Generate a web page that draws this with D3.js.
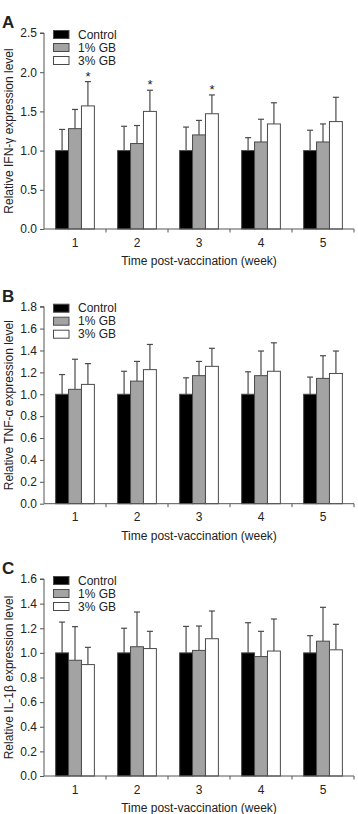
<!DOCTYPE html>
<html>
<head>
<meta charset="utf-8">
<script src="https://cdn.jsdelivr.net/npm/d3@7"></script>
<style>
  html, body { margin: 0; padding: 0; background: #fff; }
  svg { display: block; }
  text { font-family: Arial, "Liberation Sans", Helvetica, sans-serif; fill: #222; }
</style>
</head>
<body>
<svg id="chart" width="358" height="814"></svg>
<script>
// ---- data ----
const weeks = ["1", "2", "3", "4", "5"];
const series = ["Control", "1% GB", "3% GB"];

// Panel A: IFN-gamma
const ifnControl = [1.0, 1.0, 1.0, 1.0, 1.0];
const ifnGB1 = [1.28, 1.09, 1.20, 1.11, 1.11];
const ifnGB3 = [1.57, 1.50, 1.47, 1.34, 1.37];
const ifnControlSD = [0.27, 0.31, 0.30, 0.165, 0.26];
const ifnGB1SD = [0.245, 0.23, 0.185, 0.29, 0.23];
const ifnGB3SD = [0.31, 0.27, 0.24, 0.27, 0.31];
const ifnStars = [true, true, true, false, false]; // on 3% GB
const ifnTicks = [0, 0.5, 1.0, 1.5, 2.0, 2.5];

// Panel B: TNF-alpha
const tnfControl = [1.0, 1.0, 1.0, 1.0, 1.0];
const tnfGB1 = [1.045, 1.12, 1.17, 1.17, 1.145];
const tnfGB3 = [1.09, 1.225, 1.255, 1.21, 1.19];
const tnfControlSD = [0.18, 0.21, 0.15, 0.205, 0.157];
const tnfGB1SD = [0.275, 0.18, 0.13, 0.225, 0.207];
const tnfGB3SD = [0.19, 0.23, 0.165, 0.26, 0.205];
const tnfStars = [false, false, false, false, false];
const tnfTicks = [0, 0.2, 0.4, 0.6, 0.8, 1.0, 1.2, 1.4, 1.6, 1.8];

// Panel C: IL-1beta
const ilControl = [1.0, 1.0, 1.0, 1.0, 1.0];
const ilGB1 = [0.94, 1.05, 1.02, 0.97, 1.095];
const ilGB3 = [0.905, 1.035, 1.115, 1.015, 1.025];
const ilControlSD = [0.25, 0.20, 0.215, 0.245, 0.14];
const ilGB1SD = [0.273, 0.282, 0.198, 0.205, 0.275];
const ilGB3SD = [0.14, 0.14, 0.225, 0.26, 0.207];
const ilStars = [false, false, false, false, false];
const ilTicks = [0, 0.2, 0.4, 0.6, 0.8, 1.0, 1.2, 1.4, 1.6];

const xTitle = "Time post-vaccination (week)";

// ---- styles ----
const fills = ["#000000", "#a3a3a3", "#ffffff"];
const stroke = "#4a4a4a";
const axisColor = "#555";

const panels = [
  { letter: "A", yTitle: "Relative IFN-\u03b3 expression level", top: 33, bottom: 229,
    vals: [ifnControl, ifnGB1, ifnGB3], sds: [ifnControlSD, ifnGB1SD, ifnGB3SD],
    stars: ifnStars, ticks: ifnTicks },
  { letter: "B", yTitle: "Relative TNF-\u03b1 expression level", top: 306.7, bottom: 503.7,
    vals: [tnfControl, tnfGB1, tnfGB3], sds: [tnfControlSD, tnfGB1SD, tnfGB3SD],
    stars: tnfStars, ticks: tnfTicks },
  { letter: "C", yTitle: "Relative IL-1\u03b2 expression level", top: 579, bottom: 776,
    vals: [ilControl, ilGB1, ilGB3], sds: [ilControlSD, ilGB1SD, ilGB3SD],
    stars: ilStars, ticks: ilTicks }
];

const svg = d3.select("#chart");
const xLeft = 44, xRight = 354;

panels.forEach(p => {
  const g = svg.append("g");
  const x0 = d3.scaleBand().domain(weeks).range([xLeft, xRight]).padding(0);
  const x1 = d3.scaleBand().domain(series).range([0, x0.bandwidth()])
    .paddingInner(0).paddingOuter(0.9);
  const y = d3.scaleLinear().domain([0, d3.max(p.ticks)]).range([p.bottom, p.top]);

  // bars
  series.forEach((s, si) => {
    weeks.forEach((w, wi) => {
      const v = p.vals[si][wi];
      const sd = p.sds[si][wi];
      const bx = x0(w) + x1(s);
      const bw = x1.bandwidth();
      const cx = bx + bw / 2;
      // error bar (upward only)
      g.append("line")
        .attr("x1", cx).attr("x2", cx)
        .attr("y1", y(v)).attr("y2", y(v + sd))
        .attr("stroke", stroke).attr("stroke-width", 1.2);
      g.append("line")
        .attr("x1", cx - 3).attr("x2", cx + 3)
        .attr("y1", y(v + sd)).attr("y2", y(v + sd))
        .attr("stroke", stroke).attr("stroke-width", 1.2);
      g.append("rect")
        .attr("x", bx).attr("y", y(v))
        .attr("width", bw).attr("height", y(0) - y(v))
        .attr("fill", fills[si]).attr("stroke", stroke).attr("stroke-width", 1);
      if (si === 2 && p.stars[wi]) {
        g.append("text")
          .attr("x", cx).attr("y", y(v + sd) - 1)
          .attr("text-anchor", "middle")
          .attr("font-size", 13)
          .text("*");
      }
    });
  });

  // y axis
  const yAxis = d3.axisLeft(y).tickValues(p.ticks).tickFormat(d3.format(".1f"))
    .tickSize(4).tickPadding(3);
  const ya = g.append("g").attr("transform", `translate(${xLeft},0)`).call(yAxis);
  ya.select(".domain").attr("stroke", axisColor).attr("d", `M-4,${p.top}H0V${p.bottom}`);
  ya.selectAll(".tick line").attr("stroke", axisColor);
  ya.selectAll(".tick text").attr("font-size", 12).attr("fill", "#222")
    .attr("font-family", "Arial, 'Liberation Sans', sans-serif");

  // x axis: line with boundary ticks, labels at centers
  const xa = d3.axisBottom(x0).tickSize(0).tickPadding(9);
  const xg = g.append("g").attr("transform", `translate(0,${p.bottom})`).call(xa);
  xg.select(".domain").attr("stroke", axisColor).attr("d", `M${xLeft},0H${xRight}`);
  xg.selectAll(".tick text").attr("font-size", 12).attr("fill", "#222")
    .attr("font-family", "Arial, 'Liberation Sans', sans-serif");
  weeks.forEach(w => {
    const bx = x0(w) + x0.bandwidth();
    g.append("line").attr("x1", bx).attr("x2", bx)
      .attr("y1", p.bottom).attr("y2", p.bottom + 3.5)
      .attr("stroke", axisColor).attr("stroke-width", 1);
  });

  // x title
  g.append("text")
    .attr("x", (xLeft + xRight) / 2).attr("y", p.bottom + 36)
    .attr("text-anchor", "middle").attr("font-size", 12)
    .text(xTitle);

  // y title
  g.append("text")
    .attr("transform", `translate(13,${(p.top + p.bottom) / 2}) rotate(-90)`)
    .attr("text-anchor", "middle").attr("font-size", 12)
    .text(p.yTitle);

  // panel letter
  g.append("text")
    .attr("x", 2).attr("y", p.top - 5)
    .attr("font-size", 17).attr("font-weight", "bold")
    .attr("fill", "#000")
    .text(p.letter);

  // legend
  const lg = g.append("g").attr("transform", `translate(53,${p.top - 3})`);
  series.forEach((s, si) => {
    lg.append("rect")
      .attr("x", 0.5).attr("y", si * 13 + 0.5)
      .attr("width", 15.5).attr("height", 8)
      .attr("fill", fills[si]).attr("stroke", stroke).attr("stroke-width", 1);
    lg.append("text")
      .attr("x", 25).attr("y", si * 13 + 8.7)
      .attr("font-size", 12)
      .text(s);
  });
});
</script>
</body>
</html>
